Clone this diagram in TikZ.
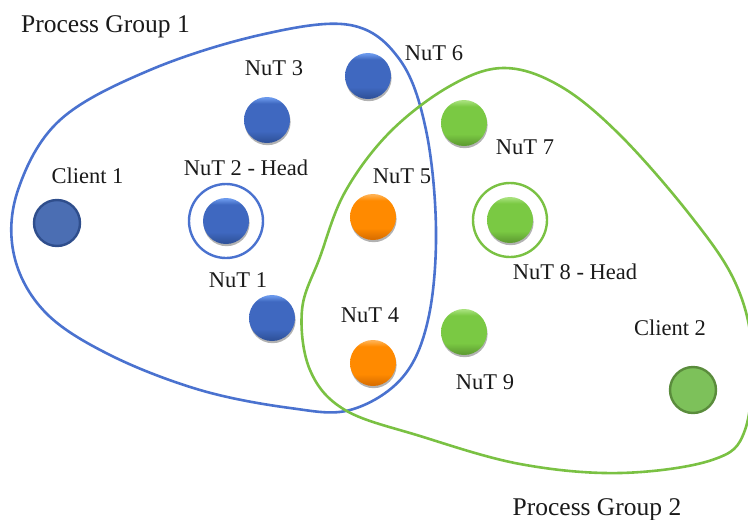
\documentclass[tikz,border=0pt]{standalone}
\usepackage{fontspec}
\setmainfont{Liberation Serif}
\usetikzlibrary{shadows}

\definecolor{pgblue}{HTML}{4A72CF}
\definecolor{pggreen}{HTML}{7AC143}
\definecolor{nutblue}{HTML}{3F68C0}
\definecolor{nutbluetop}{HTML}{6A98EC}
\definecolor{nutbluebot}{HTML}{30539C}
\definecolor{nutorange}{HTML}{FF8A00}
\definecolor{nutorangetop}{HTML}{FFB050}
\definecolor{nutorangebot}{HTML}{DC7000}
\definecolor{nutgreen}{HTML}{7AC943}
\definecolor{nutgreentop}{HTML}{A6E07A}
\definecolor{nutgreenbot}{HTML}{609F33}
\definecolor{clientblue}{HTML}{4B6EB3}
\definecolor{clientblueedge}{HTML}{2F4E8C}
\definecolor{clientgreen}{HTML}{7DC15A}
\definecolor{clientgreenedge}{HTML}{5A8C3C}
\definecolor{ink}{HTML}{1A1A1A}

% glossy sphere look: flat body, light rim on top, darker bottom
\pgfdeclareverticalshading{blueball}{100bp}{color(0bp)=(nutbluebot); color(27bp)=(nutbluebot);
  color(38bp)=(nutblue); color(68bp)=(nutblue); color(74bp)=(nutbluetop); color(100bp)=(nutbluetop)}
\pgfdeclareverticalshading{orangeball}{100bp}{color(0bp)=(nutorangebot); color(27bp)=(nutorangebot);
  color(38bp)=(nutorange); color(68bp)=(nutorange); color(74bp)=(nutorangetop); color(100bp)=(nutorangetop)}
\pgfdeclareverticalshading{greenball}{100bp}{color(0bp)=(nutgreenbot); color(27bp)=(nutgreenbot);
  color(38bp)=(nutgreen); color(68bp)=(nutgreen); color(74bp)=(nutgreentop); color(100bp)=(nutgreentop)}

\tikzset{
  lbl/.style={anchor=base, inner sep=0pt, text=ink, font=\fontsize{22.5}{27}\selectfont},
  grouplbl/.style={anchor=base, inner sep=0pt, text=ink, font=\fontsize{25.5}{30}\selectfont},
  nut/.style={circle, minimum size=46pt, inner sep=0pt,
    drop shadow={shadow xshift=0.6pt, shadow yshift=-2.2pt, opacity=0.3, fill=black}},
  bluenut/.style={nut, shading=blueball},
  orangenut/.style={nut, shading=orangeball},
  greennut/.style={nut, shading=greenball},
  client/.style={circle, minimum size=46pt, inner sep=0pt, line width=2.4pt},
  ring/.style={line width=2.4pt},
  groupline/.style={line width=2.6pt},
}

\begin{document}
\begin{tikzpicture}[x=1pt, y=-1pt]
\useasboundingbox (0,0) rectangle (748,520);
\clip (0,0) rectangle (748,520);

% process group outlines
\draw[groupline, pgblue] plot[smooth cycle, tension=0.6] coordinates {
  (350,25) (400,60) (426,130) (436,230) (428,320) (402,378) (350,410)
  (290,408) (200,390) (110,355) (45,312) (14,255) (18,190) (60,120)
  (150,70) (260,35)};
\draw[groupline, pggreen] plot[smooth cycle, tension=0.6] coordinates {
  (320,257) (345,192) (390,132) (450,86) (504,68) (560,86) (620,135)
  (690,215) (735,282) (752,350) (745,430) (712,460) (620,473) (520,464)
  (420,436) (345,410) (310,370) (302,310)};

% nodes of group 1
\node[client, fill=clientblue, draw=clientblueedge] (c1) at (57,223) {};
\node[bluenut] (n1) at (272,318) {};
\node[bluenut] (n2) at (226,221) {};
\node[bluenut] (n3) at (267,120) {};
\node[bluenut] (n6) at (368,76) {};
% shared nodes
\node[orangenut] (n4) at (373,363) {};
\node[orangenut] (n5) at (373,217) {};
% nodes of group 2
\node[greennut] (n7) at (464,123) {};
\node[greennut] (n8) at (510,220) {};
\node[greennut] (n9) at (464,332) {};
\node[client, fill=clientgreen, draw=clientgreenedge] (c2) at (693,390) {};

% head markers
\draw[ring, pgblue] (n2) circle[radius=37];
\draw[ring, pggreen] (n8) circle[radius=37];

% labels
\node[grouplbl, anchor=base west] (pg1) at (21,32) {Process Group 1};
\node[grouplbl] (pg2) at (597,515) {Process Group 2};
\node[lbl] (lc1) at (87.5,183) {Client 1};
\node[lbl] (ln1) at (238,287) {NuT 1};
\node[lbl] (ln2) at (246,175) {NuT 2 - Head};
\node[lbl] (ln3) at (274,75) {NuT 3};
\node[lbl] (ln4) at (370,322) {NuT 4};
\node[lbl] (ln5) at (402,183) {NuT 5};
\node[lbl] (ln6) at (434,60) {NuT 6};
\node[lbl] (ln7) at (525,154) {NuT 7};
\node[lbl] (ln8) at (575,279) {NuT 8 - Head};
\node[lbl] (ln9) at (485,389) {NuT 9};
\node[lbl] (lc2) at (670,335) {Client 2};
\end{tikzpicture}
\end{document}
